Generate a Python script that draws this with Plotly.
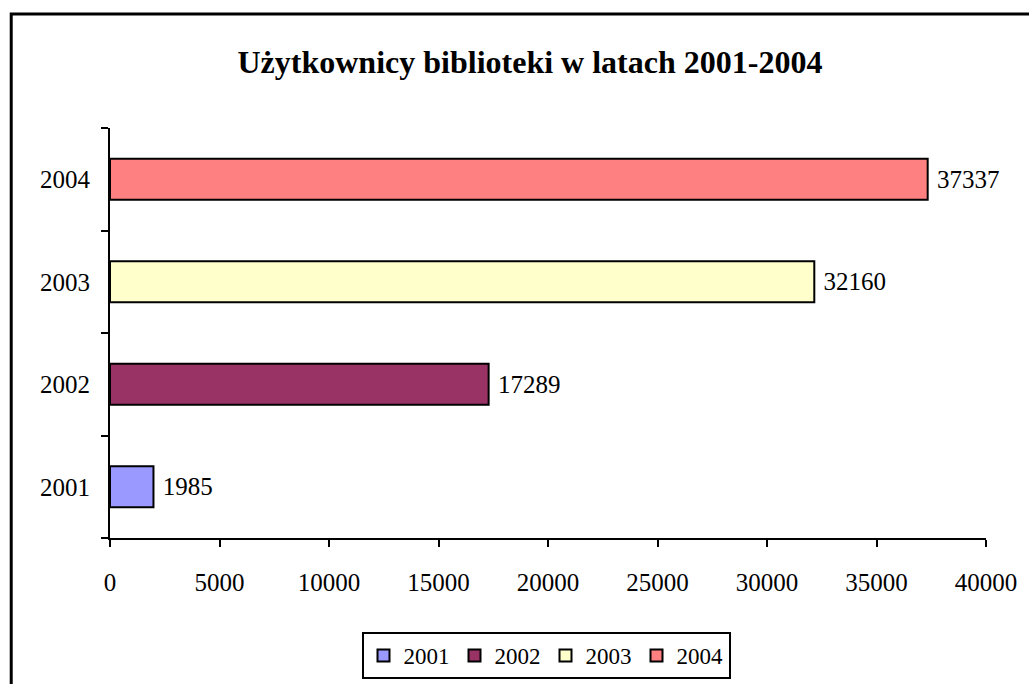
import plotly.graph_objects as go

years = ["2001", "2002", "2003", "2004"]
values = [1985, 17289, 32160, 37337]
colors = ["#9999FF", "#993366", "#FFFFCC", "#FF8080"]
title = "Użytkownicy biblioteki w latach 2001-2004"

FONT = "Liberation Serif"

fig = go.Figure()
for yr, v, c in zip(years, values, colors):
    fig.add_trace(go.Bar(
        y=[yr], x=[v], name=yr, orientation="h",
        marker=dict(color=c, line=dict(color="black", width=2)),
        width=0.4,
        text=[" " + str(v)], textposition="outside",
        textfont=dict(family=FONT, size=25, color="black"),
        cliponaxis=False,
    ))

W, H = 1029, 684
L, R, T, B = 110, 41, 128, 146
pw, ph = W - L - R, H - T - B

def px_to_paper_x(px):
    return (px - L) / pw

def px_to_paper_y(py):
    return (H - B - py) / ph

fig.update_layout(
    width=W, height=H,
    margin=dict(l=L, r=R, t=T, b=B),
    paper_bgcolor="white", plot_bgcolor="white",
    barmode="overlay",
    title=dict(text="<b>" + title + "</b>", x=0.515, xanchor="center",
               y=1 - 62 / H, yanchor="middle",
               font=dict(family=FONT, size=32, color="black")),
    font=dict(family=FONT, size=24, color="black"),
    showlegend=True,
    legend=dict(orientation="h", xref="container", yref="container",
                x=546 / W, xanchor="center",
                y=1 - 632 / H, yanchor="top",
                bordercolor="black", borderwidth=2, bgcolor="white",
                font=dict(family=FONT, size=23, color="black"),
                traceorder="normal"),
    xaxis=dict(range=[0, 40000], dtick=5000, tick0=0, tickformat="d",
               showgrid=False,
               zeroline=False, showline=True, linecolor="black", linewidth=2,
               ticks="outside", ticklen=7, tickwidth=2, tickcolor="black",
               tickfont=dict(family=FONT, size=25, color="black"),
               ticklabelstandoff=14),
    yaxis=dict(type="category", categoryorder="array", categoryarray=years,
               showgrid=False, zeroline=False, showline=True,
               linecolor="black", linewidth=2,
               ticks="outside", ticklen=7, tickwidth=2, tickcolor="black",
               tickson="boundaries",
               tickfont=dict(family=FONT, size=25, color="black"),
               ticklabelstandoff=13),
    shapes=[dict(type="rect", xref="paper", yref="paper",
                 x0=px_to_paper_x(11), x1=px_to_paper_x(1100),
                 y0=px_to_paper_y(750), y1=px_to_paper_y(14),
                 line=dict(color="black", width=3), fillcolor="rgba(0,0,0,0)",
                 layer="below")],
)

fig.write_html("out.html", config={"displayModeBar": False},
               post_script="document.body.style.margin='0px';")
